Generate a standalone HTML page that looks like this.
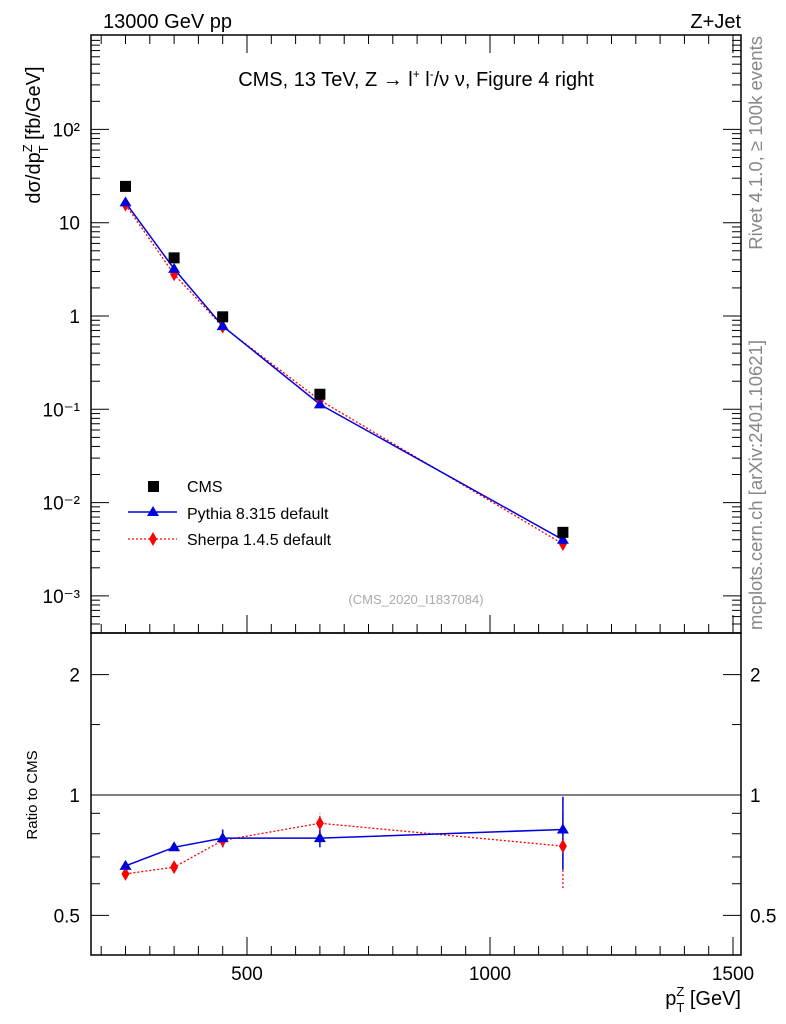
<!DOCTYPE html>
<html><head><meta charset="utf-8"><style>
body{margin:0;background:#fff;}
svg{display:block;font-family:"Liberation Sans",sans-serif;}
</style></head><body>
<svg id="c" width="786" height="1024" xmlns="http://www.w3.org/2000/svg">
<text x="103" y="28" font-size="20">13000 GeV pp</text>
<text x="741" y="28" font-size="20" text-anchor="end">Z+Jet</text>
<text x="416" y="86" font-size="20" text-anchor="middle">CMS, 13 TeV, Z →  l<tspan dy="-8" font-size="12">+</tspan><tspan dy="8"> l</tspan><tspan dy="-8" font-size="12">-</tspan><tspan dy="8">/ν ν, Figure 4 right</tspan></text>
<text transform="translate(762,36) rotate(-90)" font-size="18.5" fill="#888" text-anchor="end">Rivet 4.1.0, ≥ 100k events</text>
<text transform="translate(762,630) rotate(-90)" font-size="18.5" fill="#888">mcplots.cern.ch [arXiv:2401.10621]</text>
<text x="416" y="604" font-size="13" fill="#aaa" text-anchor="middle">(CMS_2020_I1837084)</text>
<text transform="translate(40,135) rotate(-90)" font-size="20" text-anchor="middle">dσ/dp<tspan dy="-8" font-size="13">Z</tspan><tspan dy="16" dx="-9" font-size="13">T</tspan><tspan dy="-8"> [fb/GeV]</tspan></text>
<text transform="translate(37,795) rotate(-90)" font-size="15" text-anchor="middle">Ratio to CMS</text>
<text x="741" y="1005" font-size="20" text-anchor="end">p<tspan dy="-9" font-size="13">Z</tspan><tspan dy="16" dx="-8" font-size="13">T</tspan><tspan dy="-7"> [GeV]</tspan></text>
<g id="g"></g>
</svg>
<script>
const xVals=[250,350,450,650,1150];
const cmsVals=[24.5,4.2,0.98,0.145,0.0048];
const pythiaVals=[16.5,3.2,0.78,0.113,0.0040];
const sherpaVals=[15.6,2.8,0.77,0.125,0.0036];
const pythiaRatio=[0.665,0.74,0.78,0.78,0.82];
const pythiaRatioErr=[0.01,0.01,0.04,0.04,0.17];
const sherpaRatio=[0.635,0.66,0.77,0.85,0.745];
const sherpaRatioErr=[0.015,0.015,0.03,0.05,0.16];
const xTicks=[500,1000,1500];
const yDecades=[-3,-2,-1,0,1,2];
const yLabels=["10⁻³","10⁻²","10⁻¹","1","10","10²"];
const rTicks=[0.5,1,2];

const L=91,R=741,T=35,M=633,B=955;
const X=v=>4+v*0.486;
const Y=v=>316-Math.log10(v)*93.3;
const RY=v=>795-Math.log10(v)*400;
const NS="http://www.w3.org/2000/svg";
const g=document.getElementById('g');
function mk(t,a,p){const e=document.createElementNS(NS,t);for(const k in a)e.setAttribute(k,a[k]);(p||g).appendChild(e);return e;}
let e;
e=mk('rect',{x:L,y:T,width:R-L,height:M-T,fill:'none',stroke:'#000','stroke-width':1.5});

e=mk('rect',{x:L,y:M,width:R-L,height:B-M,fill:'none',stroke:'#000','stroke-width':1.5});

for(let v=200;v<=1500;v+=50){const x=X(v);if(x<L||x>R)continue;const l2=v%500===0?18:9;
 for(const [y0,d] of [[M,-1],[T,1],[B,-1]]){e=mk('line',{x1:x,x2:x,y1:y0,y2:y0+d*l2,stroke:'#000'});}}
xTicks.forEach(v=>{e=mk('text',{x:X(v),y:980,'font-size':19,'text-anchor':'middle'});e.textContent=v;});
yDecades.forEach((d,i)=>{const y=Y(Math.pow(10,d));
 e=mk('line',{x1:L,x2:L+18,y1:y,y2:y,stroke:'#000'});
 e=mk('line',{x1:R,x2:R-18,y1:y,y2:y,stroke:'#000'});
 e=mk('text',{x:80,y:y+7,'font-size':19,'text-anchor':'end'});e.textContent=yLabels[i];});
for(let d=-4;d<=2;d++)for(let k=2;k<10;k++){const y=Y(k*Math.pow(10,d));if(y<T||y>M)continue;
 e=mk('line',{x1:L,x2:L+9,y1:y,y2:y,stroke:'#000'});
 e=mk('line',{x1:R,x2:R-9,y1:y,y2:y,stroke:'#000'});}
rTicks.forEach(v=>{const y=RY(v);
 e=mk('line',{x1:L,x2:L+18,y1:y,y2:y,stroke:'#000'});
 e=mk('line',{x1:R,x2:R-18,y1:y,y2:y,stroke:'#000'});
 e=mk('text',{x:80,y:y+7,'font-size':19,'text-anchor':'end'});e.textContent=v;
 e=mk('text',{x:750,y:y+7,'font-size':19});e.textContent=v;});
[0.6,0.7,0.8,0.9,1.5].forEach(v=>{const y=RY(v);
 e=mk('line',{x1:L,x2:L+9,y1:y,y2:y,stroke:'#000'});
 e=mk('line',{x1:R,x2:R-9,y1:y,y2:y,stroke:'#000'});});
e=mk('line',{x1:L,x2:R,y1:RY(1),y2:RY(1),stroke:'#000'});
function tri(x,y,c){return mk('polygon',{points:`${x},${y-6} ${x-6},${y+4} ${x+6},${y+4}`,fill:c});}
function dia(x,y,c){return mk('polygon',{points:`${x},${y-7} ${x-4},${y} ${x},${y+7} ${x+4},${y}`,fill:c});}
e=mk('polyline',{points:xVals.map((v,i)=>X(v)+','+Y(sherpaVals[i])).join(' '),fill:'none',stroke:'red','stroke-width':1.3,'stroke-dasharray':'2,2'});

e=mk('polyline',{points:xVals.map((v,i)=>X(v)+','+Y(pythiaVals[i])).join(' '),fill:'none',stroke:'#00d','stroke-width':1.5});

xVals.forEach((v,i)=>{
 e=dia(X(v),Y(sherpaVals[i]),'red');
 e=tri(X(v),Y(pythiaVals[i]),'#00d');
 e=mk('rect',{x:X(v)-5.5,y:Y(cmsVals[i])-5.5,width:11,height:11,fill:'#000'});});
e=mk('polyline',{points:xVals.map((v,i)=>X(v)+','+RY(sherpaRatio[i])).join(' '),fill:'none',stroke:'red','stroke-width':1.3,'stroke-dasharray':'2,2'});

e=mk('polyline',{points:xVals.map((v,i)=>X(v)+','+RY(pythiaRatio[i])).join(' '),fill:'none',stroke:'#00d','stroke-width':1.5});

xVals.forEach((v,i)=>{const x=X(v);
 e=mk('line',{x1:x,x2:x,y1:RY(sherpaRatio[i]-sherpaRatioErr[i]),y2:RY(sherpaRatio[i]+sherpaRatioErr[i]),stroke:'red','stroke-dasharray':'2,2','stroke-width':1.3});
 e=mk('line',{x1:x,x2:x,y1:RY(pythiaRatio[i]-pythiaRatioErr[i]),y2:RY(pythiaRatio[i]+pythiaRatioErr[i]),stroke:'#00d','stroke-width':1.5});
 e=dia(x,RY(sherpaRatio[i]),'red');
 e=tri(x,RY(pythiaRatio[i]),'#00d');});
const lg=mk('g',{});
e=mk('rect',{x:148,y:481,width:11,height:11,fill:'#000'},lg);
e=mk('line',{x1:128,x2:177,y1:512,y2:512,stroke:'#00d','stroke-width':1.5},lg);
e=tri(153,512,'#00d');lg.appendChild(e);
e=mk('line',{x1:128,x2:177,y1:539,y2:539,stroke:'red','stroke-dasharray':'2,2','stroke-width':1.3},lg);
e=dia(153,539,'red');lg.appendChild(e);
[["CMS",492],["Pythia 8.315 default",519],["Sherpa 1.4.5 default",545]].forEach(([t,y])=>{e=mk('text',{x:187,y:y,'font-size':16},lg);e.textContent=t;});
</script>
</body></html>
